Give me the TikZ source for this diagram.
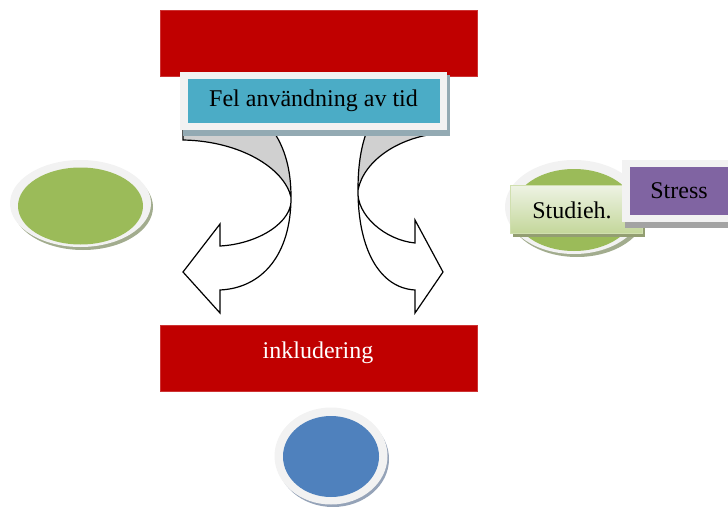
\documentclass[tikz,border=0pt]{standalone}
\usepackage{fontspec}
\setmainfont{Liberation Serif}
\usetikzlibrary{shapes.geometric}
\definecolor{dred}{HTML}{C00000}
\definecolor{teal}{HTML}{4BACC6}
\definecolor{frame}{HTML}{F2F2F2}
\definecolor{lgreen}{HTML}{9BBB59}
\definecolor{mblue}{HTML}{4F81BD}
\definecolor{mpurple}{HTML}{8064A2}
\definecolor{arrgray}{HTML}{D0D0D0}
\definecolor{shblue}{HTML}{93AAB3}
\definecolor{shgreen}{HTML}{A2AC8E}
\definecolor{shgray}{HTML}{A3A3A3}
\definecolor{shcirc}{HTML}{95A3B8}
\definecolor{stlight}{HTML}{EEF3E4}
\definecolor{stdark}{HTML}{C4D79B}
\definecolor{shstud}{HTML}{939E72}
\tikzset{
  redbox/.style={rectangle, fill=dred, draw=dred!80!white, line width=0.6pt, inner sep=0pt},
  framebox/.style={rectangle, draw=frame, line width=7.5pt, inner sep=0pt},
  ovalframe/.style={ellipse, fill=frame, inner sep=0pt},
  ovalin/.style={ellipse, inner sep=0pt},
  arrline/.style={draw=black, line width=1.2pt, line join=miter},
  txt/.style={font=\fontsize{24}{28}\selectfont, text=black}
}
\begin{document}
\begin{tikzpicture}[x=1pt,y=-1pt]
\useasboundingbox (0,0) rectangle (728,506);
\clip (0,0) rectangle (728,506);

% top red box
\node[redbox, minimum width=317pt, minimum height=66pt] (top) at (318.5,43) {};

% arrow coordinates (left)
\coordinate (LA0) at (183,128);
\coordinate (LA1) at (183,140);
\coordinate (LX) at (291,197);
\coordinate (LN1) at (220,246);
\coordinate (LB1) at (220,224);
\coordinate (LT) at (183,272);
\coordinate (LB2) at (220,313);
\coordinate (LN2) at (220,290);
\coordinate (LB0) at (271,128);
% arrow coordinates (right)
\coordinate (RA0) at (443,128);
\coordinate (RA1) at (443,133);
\coordinate (RX) at (358,190);
\coordinate (RN1) at (415,243);
\coordinate (RB1) at (415,220);
\coordinate (RT) at (443,272);
\coordinate (RB2) at (415,313);
\coordinate (RN2) at (415,290);
\coordinate (RB0) at (368,128);

% left curved arrow
\fill[arrgray] (LA0) -- (LA1) .. controls (240,141) and (284,168) .. (LX)
  .. controls (291,172) and (286,148) .. (LB0) -- cycle;
\fill[white] (LX) .. controls (294,222) and (258,244) .. (LN1) -- (LB1) -- (LT) -- (LB2) -- (LN2)
  .. controls (262,288) and (291,255) .. (LX) -- cycle;
\draw[arrline] (LA0) -- (LA1) .. controls (240,141) and (284,168) .. (LX)
  .. controls (294,222) and (258,244) .. (LN1) -- (LB1) -- (LT) -- (LB2) -- (LN2)
  .. controls (262,288) and (291,255) .. (LX) .. controls (291,172) and (286,148) .. (LB0);

% right curved arrow
\fill[arrgray] (RA0) -- (RA1) .. controls (400,136) and (364,160) .. (RX)
  .. controls (358,165) and (361,146) .. (RB0) -- cycle;
\fill[white] (RX) .. controls (356,215) and (385,240) .. (RN1) -- (RB1) -- (RT) -- (RB2) -- (RN2)
  .. controls (380,288) and (358,250) .. (RX) -- cycle;
\draw[arrline] (RA0) -- (RA1) .. controls (400,136) and (364,160) .. (RX)
  .. controls (356,215) and (385,240) .. (RN1) -- (RB1) -- (RT) -- (RB2) -- (RN2)
  .. controls (380,288) and (358,250) .. (RX) .. controls (358,165) and (361,146) .. (RB0);

% blue title box
\fill[shblue] (183,75) rectangle (450,136);
\node[framebox, fill=teal, minimum width=259.5pt, minimum height=51pt, txt] (fel) at (313.5,101) {Fel användning av tid};

% left green oval
\fill[shgreen] (83,207) ellipse [x radius=70pt, y radius=43pt];
\node[ovalframe, minimum width=141pt, minimum height=87pt] (lframe) at (80.5,203.5) {};
\node[ovalin, fill=lgreen, minimum width=125pt, minimum height=77pt] (lgreen) at (80.5,206) {};

% right green oval
\fill[shgreen] (577,211) ellipse [x radius=69pt, y radius=46pt];
\node[ovalframe, minimum width=138pt, minimum height=94pt] (rframe) at (574,207) {};
\node[ovalin, fill=lgreen, minimum width=122pt, minimum height=82pt] (rgreen) at (574,210) {};

% Studieh. box
\fill[shstud] (513,188) rectangle (645,237);
\node[rectangle, inner sep=0pt, top color=stlight, bottom color=stdark, draw=stdark!80!white, line width=1pt,
  minimum width=132pt, minimum height=48pt, txt] (stud) at (576,209) {};
\node[txt] (studt) at (572,210) {Studieh.};

% Stress box
\fill[shgray] (625,165) rectangle (735,228);
\node[framebox, fill=mpurple, minimum width=106pt, minimum height=55pt, txt] (stress) at (679,191) {Stress};

% bottom red box
\node[redbox, minimum width=317pt, minimum height=66pt] (incl) at (318.5,358) {};
\node[txt, text=white] (inclt) at (318,353) {inkludering};

% blue circle
\fill[shcirc] (333,459) ellipse [x radius=56pt, y radius=48pt];
\node[ovalframe, minimum width=113pt, minimum height=97pt] (cframe) at (331,456) {};
\node[ovalin, fill=mblue, minimum width=96pt, minimum height=81pt] (cblue) at (331,456.5) {};
\end{tikzpicture}
\end{document}
